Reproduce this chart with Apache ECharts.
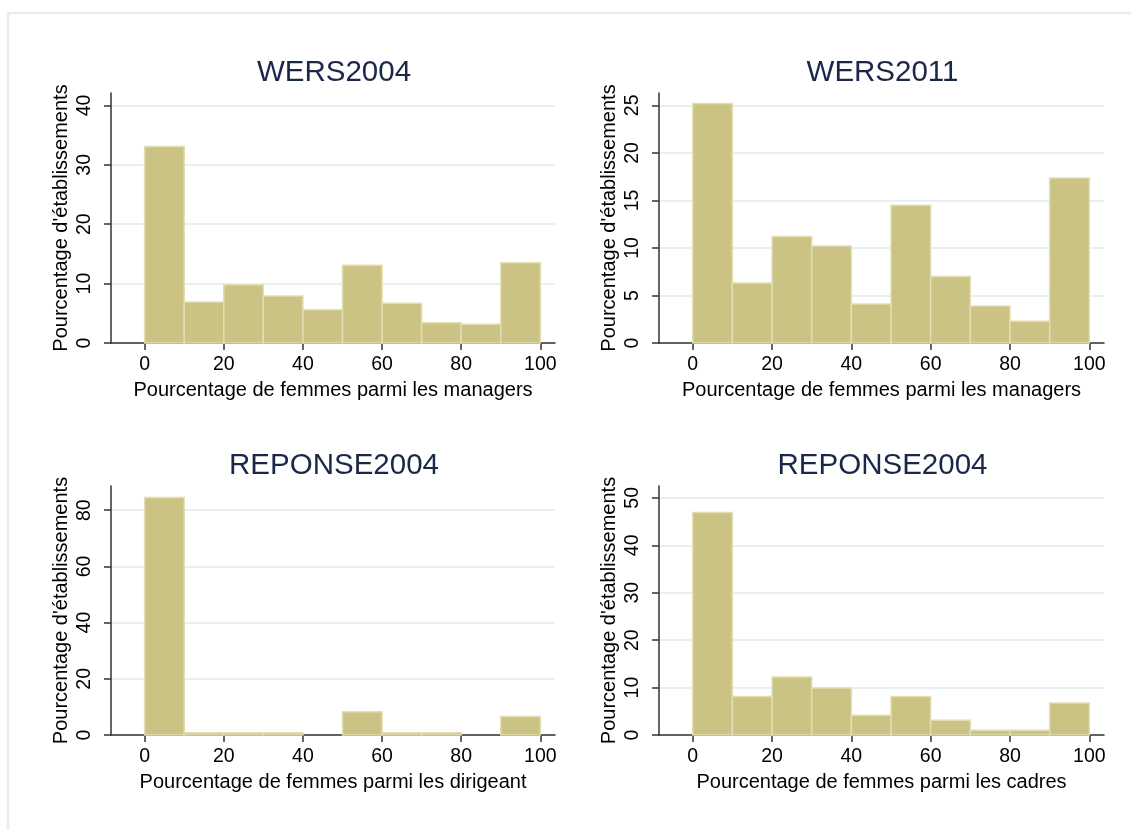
<!DOCTYPE html>
<html>
<head>
<meta charset="utf-8">
<script src="https://cdn.jsdelivr.net/npm/echarts@6/dist/echarts.min.js"></script>
<style>
  html, body { margin: 0; padding: 0; background: #fff; }
  #chart { width: 1131px; height: 830px; }
</style>
</head>
<body>
<div id="chart"></div>
<script>
// bin edges shared by the four histograms
var binEdges = [0, 10, 20, 30, 40, 50, 60, 70, 80, 90, 100];
var xTicks = [0, 20, 40, 60, 80, 100];

var titles = ['WERS2004', 'WERS2011', 'REPONSE2004', 'REPONSE2004'];
var xNames = [
  'Pourcentage de femmes parmi les managers',
  'Pourcentage de femmes parmi les managers',
  'Pourcentage de femmes parmi les dirigeant',
  'Pourcentage de femmes parmi les cadres'
];
var yName = "Pourcentage d'établissements";

var wers2004 = [33.1, 6.9, 9.8, 7.9, 5.6, 13.1, 6.7, 3.4, 3.15, 13.5];
var wers2011 = [25.2, 6.3, 11.2, 10.2, 4.1, 14.5, 7.0, 3.9, 2.3, 17.35];
var reponseDirigeant = [84.5, 0.8, 0.8, 0.8, 0, 8.3, 0.8, 0.8, 0, 6.6];
var reponseCadres = [46.9, 8.1, 12.25, 9.9, 4.15, 8.1, 3.1, 1.0, 1.0, 6.75];

var yTicks = [
  [0, 10, 20, 30, 40],
  [0, 5, 10, 15, 20, 25],
  [0, 20, 40, 60, 80],
  [0, 10, 20, 30, 40, 50]
];
var yMax = [42.1, 26.3, 88.6, 52.5];

var panels = [wers2004, wers2011, reponseDirigeant, reponseCadres];

var chart = echarts.init(document.getElementById('chart'));

var font = "'Liberation Sans', Arial, sans-serif";
var grids = [
  { left: 111, top: 93, width: 444, height: 250 },
  { left: 659, top: 93, width: 445, height: 250 },
  { left: 111, top: 486, width: 444, height: 249 },
  { left: 659, top: 486, width: 445, height: 249 }
];
var titleTops = [53, 53, 446, 446];

function renderItem(params, api) {
  var v = api.value(2);
  if (!v) return null;
  var p0 = api.coord([api.value(0), v]);
  var p1 = api.coord([api.value(1), 0]);
  return {
    type: 'rect',
    shape: { x: p0[0], y: p0[1], width: p1[0] - p0[0], height: p1[1] - p0[1] },
    style: { fill: '#cac383', stroke: '#e2ddb3', lineWidth: 1.5 }
  };
}

var option = {
  backgroundColor: '#fff',
  animation: false,
  title: [],
  grid: grids,
  xAxis: [],
  yAxis: [],
  series: [],
  graphic: [{
    type: 'rect',
    shape: { x: 8, y: 13, width: 1300, height: 1000 },
    style: { fill: 'none', stroke: '#e6eef0', lineWidth: 2.5 },
    silent: true
  }]
};

panels.forEach(function (vals, i) {
  var g = grids[i];
  option.title.push({
    text: titles[i],
    left: g.left + g.width / 2 - 4,
    top: titleTops[i],
    textAlign: 'center',
    textStyle: { fontFamily: font, fontSize: 29.5, fontWeight: 'normal', color: '#1a2748' }
  });
  option.xAxis.push({
    type: 'value',
    gridIndex: i,
    min: -8.5,
    max: 103.7,
    name: xNames[i],
    nameLocation: 'middle',
    nameGap: 37,
    nameTextStyle: { fontFamily: font, fontSize: 20, color: '#000' },
    axisLine: { show: true, onZero: false, lineStyle: { color: '#333', width: 1.5 } },
    axisTick: { show: true, length: 7, customValues: xTicks, lineStyle: { color: '#333', width: 1.5 } },
    axisLabel: { customValues: xTicks, margin: 12, fontFamily: font, fontSize: 19.5, color: '#000' },
    splitLine: { show: false }
  });
  option.yAxis.push({
    type: 'value',
    gridIndex: i,
    min: 0,
    max: yMax[i],
    name: yName,
    nameLocation: 'middle',
    nameRotate: 90,
    nameGap: 40,
    nameTextStyle: { fontFamily: font, fontSize: 20, color: '#000' },
    axisLine: { show: true, onZero: false, lineStyle: { color: '#333', width: 1.5 } },
    axisTick: { show: true, length: 7, customValues: yTicks[i], lineStyle: { color: '#333', width: 1.5 } },
    axisLabel: { customValues: yTicks[i], rotate: 90, margin: 16, fontFamily: font, fontSize: 19.5, color: '#000' },
    splitLine: { show: true, lineStyle: { color: '#e8f0f2', width: 2 } }
  });
  option.series.push({
    type: 'custom',
    xAxisIndex: i,
    yAxisIndex: i,
    renderItem: renderItem,
    encode: { x: [0, 1], y: 2 },
    data: vals.map(function (v, k) {
      return [binEdges[k], binEdges[k + 1], v];
    })
  });
});

chart.setOption(option);
</script>
</body>
</html>
